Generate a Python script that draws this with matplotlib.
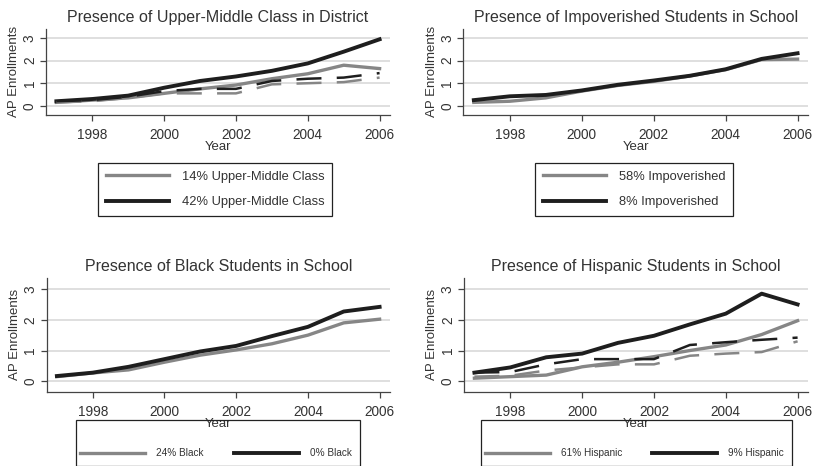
import matplotlib
matplotlib.use("Agg")
import matplotlib.pyplot as plt
from matplotlib.patches import Rectangle

plt.rcParams["font.family"] = ["Liberation Sans", "DejaVu Sans"]
plt.rcParams["lines.scale_dashes"] = False

W, H = 818, 466
DARK = "#1e1e1e"
GRAY = "#868686"
TEXT = "#333333"

years = [1997, 1998, 1999, 2000, 2001, 2002, 2003, 2004, 2005, 2006]

# Upper-middle class in district
umc_low = [0.15, 0.25, 0.35, 0.55, 0.75, 0.92, 1.2, 1.42, 1.8, 1.65]
umc_high = [0.2, 0.3, 0.45, 0.8, 1.1, 1.3, 1.55, 1.88, 2.4, 2.95]
umc_low_alt = [0.15, 0.2, 0.35, 0.55, 0.55, 0.55, 0.95, 1.0, 1.05, 1.25]
umc_high_alt = [0.2, 0.25, 0.4, 0.65, 0.75, 0.75, 1.1, 1.2, 1.25, 1.45]

# Impoverished students in school
pov_high = [0.15, 0.2, 0.35, 0.65, 0.9, 1.08, 1.32, 1.6, 2.05, 2.07]
pov_low = [0.25, 0.42, 0.48, 0.68, 0.93, 1.12, 1.33, 1.62, 2.08, 2.33]

# Black students in school
blk_24 = [0.15, 0.27, 0.37, 0.62, 0.85, 1.02, 1.22, 1.5, 1.9, 2.02]
blk_0 = [0.17, 0.28, 0.47, 0.72, 0.97, 1.15, 1.47, 1.77, 2.27, 2.42]

# Hispanic students in school
his_61 = [0.1, 0.15, 0.2, 0.47, 0.62, 0.8, 1.0, 1.18, 1.52, 1.97]
his_9 = [0.28, 0.45, 0.78, 0.9, 1.25, 1.48, 1.85, 2.2, 2.85, 2.5]
his_61_alt = [0.15, 0.18, 0.35, 0.45, 0.55, 0.55, 0.83, 0.9, 0.95, 1.3]
his_9_alt = [0.28, 0.3, 0.55, 0.72, 0.72, 0.72, 1.18, 1.27, 1.35, 1.42]


def px_box(x0, y0, x1, y1):
    return [x0 / W, 1 - y1 / H, (x1 - x0) / W, (y1 - y0) / H]


def style_axes(ax, title, ylim):
    ax.set_xlim(1996.71, 2006.29)
    ax.set_ylim(*ylim)
    ax.set_xticks([1998, 2000, 2002, 2004, 2006])
    ax.set_yticks([0, 1, 2, 3])
    ax.grid(axis="y", color="#dcdcdc", lw=1.3)
    ax.set_axisbelow(True)
    for s in ["top", "right"]:
        ax.spines[s].set_visible(False)
    for s in ["left", "bottom"]:
        ax.spines[s].set_color("#444444")
        ax.spines[s].set_linewidth(0.9)
    ax.tick_params(length=4.5, width=0.9, color="#444444", labelsize=9.8,
                   labelcolor=TEXT)
    ax.tick_params(axis="x", pad=5)
    ax.tick_params(axis="y", pad=2)
    for lab in ax.get_yticklabels():
        lab.set_rotation(90)
        lab.set_va("center")
    ax.set_title(title, fontsize=11.5, color=TEXT, pad=5)
    ax.set_xlabel("Year", fontsize=9.5, color=TEXT, labelpad=-1)
    ax.set_ylabel("AP Enrollments", fontsize=9.5, color=TEXT, labelpad=2)


def draw(ax, gray, dark, labels, gray_alt=None, dark_alt=None):
    lines = []
    lines += ax.plot(years, gray, color=GRAY, lw=2.4, label=labels[0])
    lines += ax.plot(years, dark, color=DARK, lw=2.8, label=labels[1])
    if gray_alt is not None:
        ax.plot(years, gray_alt, color=GRAY, lw=1.8, dashes=(18, 11))
        ax.plot(years, dark_alt, color=DARK, lw=1.8, dashes=(18, 11))
    return lines


fig = plt.figure(figsize=(W / 100, H / 100), dpi=100)

ax1 = fig.add_axes(px_box(46, 28.7, 390, 115))
ax2 = fig.add_axes(px_box(463.4, 28.7, 808, 115))
ax3 = fig.add_axes(px_box(46.5, 278, 390, 391.7))
ax4 = fig.add_axes(px_box(464, 278, 808, 391.7))

top_lim = (-0.41, 3.42)
bot_lim = (-0.34, 3.36)

style_axes(ax1, "Presence of Upper-Middle Class in District", top_lim)
style_axes(ax2, "Presence of Impoverished Students in School", top_lim)
style_axes(ax3, "Presence of Black Students in School", bot_lim)
style_axes(ax4, "Presence of Hispanic Students in School", bot_lim)

h1 = draw(ax1, umc_low, umc_high,
          ["14% Upper-Middle Class", "42% Upper-Middle Class"],
          umc_low_alt, umc_high_alt)
h2 = draw(ax2, pov_high, pov_low, ["58% Impoverished", "8% Impoverished"])
h3 = draw(ax3, blk_24, blk_0, ["24% Black", "0% Black"])
h4 = draw(ax4, his_61, his_9, ["61% Hispanic", "9% Hispanic"],
          his_61_alt, his_9_alt)

# two-row legends under the top panels
for ax, h, x0 in [(ax1, h1, 98), (ax2, h2, 535)]:
    leg = fig.legend(handles=h, loc="upper left",
                     bbox_to_anchor=(x0 / W, 1 - 163 / H),
                     fontsize=9.3, handlelength=4.9, handletextpad=1.0,
                     labelspacing=1.05, borderpad=0.6, borderaxespad=0,
                     fancybox=False, framealpha=1, edgecolor="#222222")
    leg.get_frame().set_linewidth(0.9)
    for t in leg.get_texts():
        t.set_color(TEXT)

# one-row legends under the bottom panels, boxed separately
for ax, h, x0, x1 in [(ax3, h3, 76, 360), (ax4, h4, 481, 792)]:
    leg = fig.legend(handles=h, loc="center left",
                     bbox_to_anchor=(x0 / W + 4 / W, 1 - 453 / H),
                     ncol=2, fontsize=7.2, handlelength=6.5,
                     handletextpad=1.1, columnspacing=3.0,
                     borderpad=0, borderaxespad=0, frameon=False)
    for t in leg.get_texts():
        t.set_color(TEXT)
    fig.patches.append(Rectangle((x0 / W, 0), (x1 - x0) / W, (H - 429) / H + 0.02,
                                 transform=fig.transFigure, fill=False,
                                 edgecolor="#222222", lw=0.9))

fig.savefig("out.png", dpi=100)
